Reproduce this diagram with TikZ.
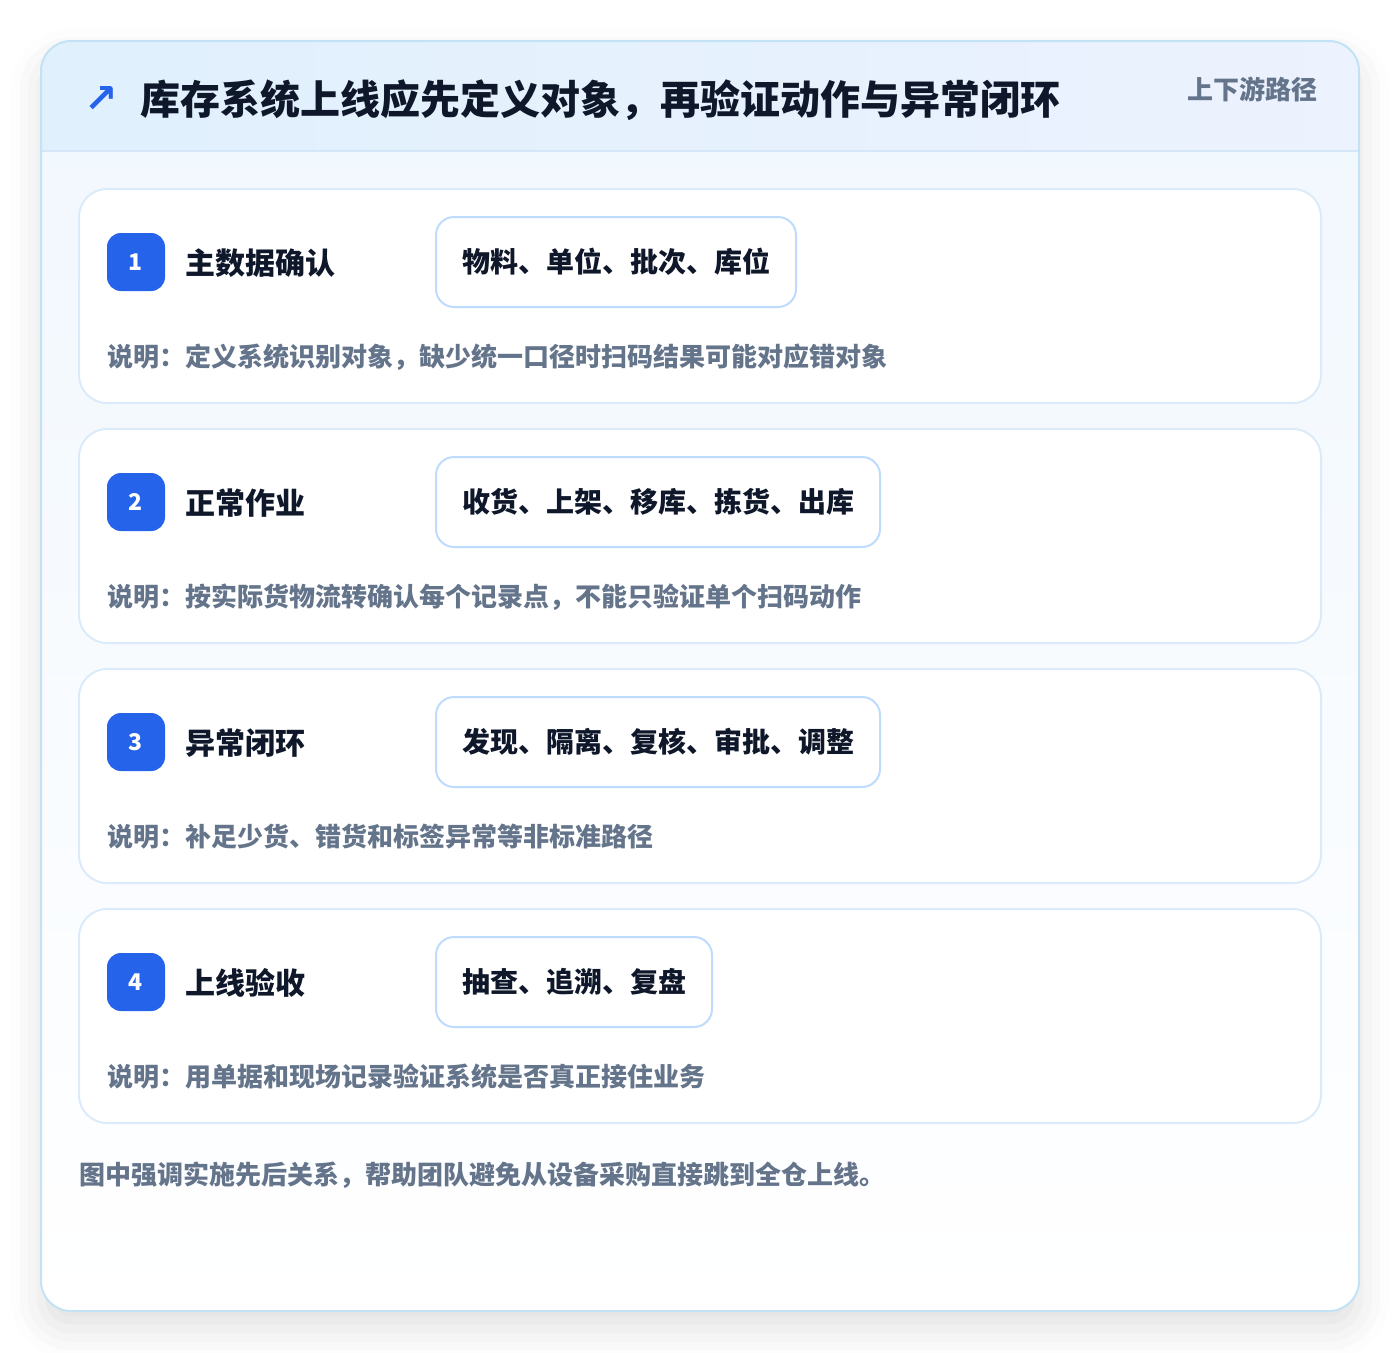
\documentclass[tikz,border=0pt]{standalone}
\usepackage{fontspec}
\setmainfont{Noto Sans CJK SC}
\newfontfamily\symfont{DejaVu Sans}
\usetikzlibrary{positioning,shadows.blur}

\definecolor{accent}{HTML}{2563EB}
\definecolor{ink}{HTML}{0F172A}
\definecolor{muted}{HTML}{64748B}
\definecolor{frameline}{HTML}{C3E2F5}
\definecolor{headline}{HTML}{D4E6F7}
\definecolor{headleft}{HTML}{E0F0FD}
\definecolor{headright}{HTML}{ECF2FE}
\definecolor{cardline}{HTML}{DCEBFA}
\definecolor{chipline}{HTML}{BFDBFE}
\definecolor{frametop}{HTML}{F0F7FE}

\begin{document}
\begin{tikzpicture}[x=1pt, y=-1pt,
    card/.style={draw=cardline, line width=2pt, fill=white, rounded corners=28pt,
        minimum width=1242pt, minimum height=214pt},
    badge/.style={fill=accent, rounded corners=14pt, minimum size=58pt, inner sep=0pt,
        text=white, font=\fontsize{23}{23}\selectfont\bfseries},
    steptitle/.style={anchor=west, inner sep=0pt, text=ink,
        font=\fontsize{30}{30}\selectfont\bfseries},
    chip/.style={anchor=west, draw=chipline, line width=2pt, fill=white, rounded corners=18pt,
        minimum height=90pt, inner xsep=26pt, text=ink,
        font=\fontsize{28}{28}\selectfont\bfseries},
    note/.style={anchor=west, inner sep=0pt, text=muted,
        font=\fontsize{26}{26}\selectfont\bfseries}]
    \useasboundingbox (0,0) rectangle (1400,1352);

    % outer frame and header
    \path[blur shadow={shadow xshift=0pt, shadow yshift=-18pt, shadow blur radius=30pt, shadow opacity=12},
        top color=frametop, bottom color=white, rounded corners=30pt] (41,41) rectangle (1359,1311);
    \begin{scope}
        \clip[rounded corners=30pt] (41,41) rectangle (1359,1311);
        \fill[left color=headleft, right color=headright] (41,41) rectangle (1359,151);
    \end{scope}
    \draw[headline, line width=1.5pt] (41,151) -- (1359,151);
    \draw[frameline, line width=2pt, rounded corners=30pt] (41,41) rectangle (1359,1311);

    \node (icon) at (101,99) {\symfont\fontsize{40}{40}\selectfont\bfseries\color{accent}↗};
    \node (title) [anchor=west, inner sep=0pt, text=ink] at (140,100)
        {\fontsize{40}{40}\selectfont\bfseries 库存系统上线应先定义对象，再验证动作与异常闭环};
    \node (tag) [note, anchor=east] at (1318,89) {上下游路径};

    % step 1
    \node (card1) [card] at (700,296) {};
    \node (b1) [badge] at (136,262) {1};
    \node (t1) [steptitle] at (185,263) {主数据确认};
    \node (c1) [chip] at (435,262) {物料、单位、批次、库位};
    \node (d1) [note] at (107,357) {说明：定义系统识别对象，缺少统一口径时扫码结果可能对应错对象};

    % step 2
    \node (card2) [card] at (700,536) {};
    \node (b2) [badge] at (136,502) {2};
    \node (t2) [steptitle] at (185,503) {正常作业};
    \node (c2) [chip] at (435,502) {收货、上架、移库、拣货、出库};
    \node (d2) [note] at (107,597) {说明：按实际货物流转确认每个记录点，不能只验证单个扫码动作};

    % step 3
    \node (card3) [card] at (700,776) {};
    \node (b3) [badge] at (136,742) {3};
    \node (t3) [steptitle] at (185,743) {异常闭环};
    \node (c3) [chip] at (435,742) {发现、隔离、复核、审批、调整};
    \node (d3) [note] at (107,837) {说明：补足少货、错货和标签异常等非标准路径};

    % step 4
    \node (card4) [card] at (700,1016) {};
    \node (b4) [badge] at (136,982) {4};
    \node (t4) [steptitle] at (185,983) {上线验收};
    \node (c4) [chip] at (435,982) {抽查、追溯、复盘};
    \node (d4) [note] at (107,1077) {说明：用单据和现场记录验证系统是否真正接住业务};

    \node (foot) [note] at (79,1175) {图中强调实施先后关系，帮助团队避免从设备采购直接跳到全仓上线。};
\end{tikzpicture}
\end{document}
